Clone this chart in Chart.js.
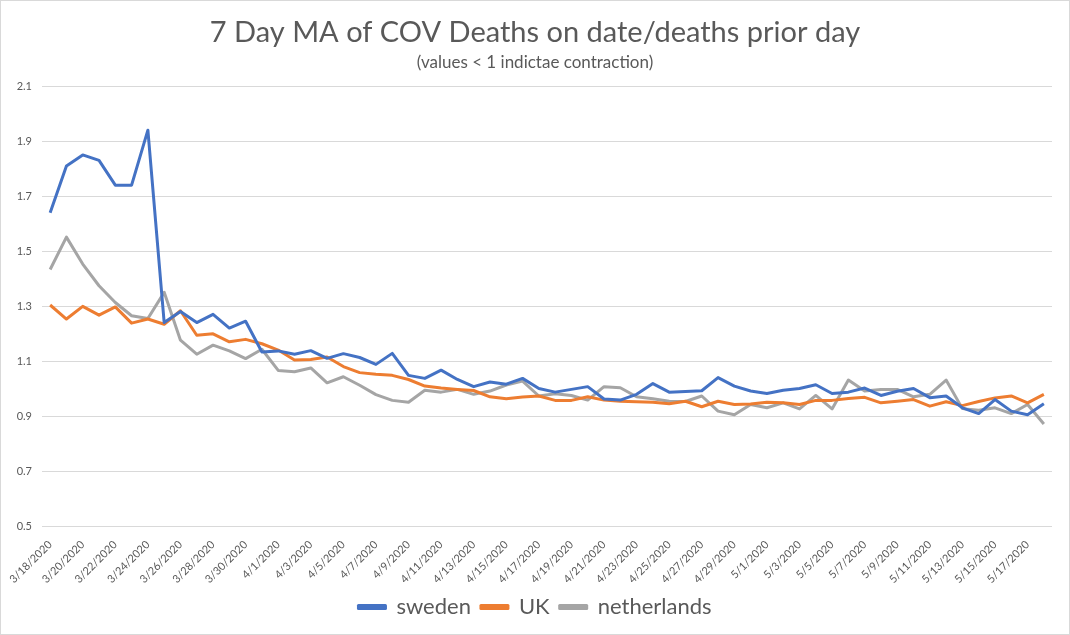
<!DOCTYPE html>
<html>
<head>
<meta charset="utf-8">
<script src="https://cdn.jsdelivr.net/npm/chart.js@4.4.1/dist/chart.umd.min.js"></script>
<style>
  html, body { margin: 0; padding: 0; background: #fff; }
  #wrap { width: 1070px; height: 635px; box-sizing: border-box; border: 1px solid #d9d9d9; }
  canvas { display: block; }
</style>
</head>
<body>
<div id="wrap"><canvas id="myChart" width="1068" height="633"></canvas></div>
<script>
// dates 3/18/2020 .. 5/18/2020
const dates = [
    '3/18/2020', '3/19/2020', '3/20/2020', '3/21/2020', '3/22/2020', '3/23/2020', '3/24/2020',
    '3/25/2020', '3/26/2020', '3/27/2020', '3/28/2020', '3/29/2020', '3/30/2020', '3/31/2020',
    '4/1/2020', '4/2/2020', '4/3/2020', '4/4/2020', '4/5/2020', '4/6/2020', '4/7/2020',
    '4/8/2020', '4/9/2020', '4/10/2020', '4/11/2020', '4/12/2020', '4/13/2020', '4/14/2020',
    '4/15/2020', '4/16/2020', '4/17/2020', '4/18/2020', '4/19/2020', '4/20/2020', '4/21/2020',
    '4/22/2020', '4/23/2020', '4/24/2020', '4/25/2020', '4/26/2020', '4/27/2020', '4/28/2020',
    '4/29/2020', '4/30/2020', '5/1/2020', '5/2/2020', '5/3/2020', '5/4/2020', '5/5/2020',
    '5/6/2020', '5/7/2020', '5/8/2020', '5/9/2020', '5/10/2020', '5/11/2020', '5/12/2020',
    '5/13/2020', '5/14/2020', '5/15/2020', '5/16/2020', '5/17/2020', '5/18/2020'
];

const sweden = [
    1.64, 1.81, 1.85, 1.83, 1.74, 1.74, 1.94, 1.24, 1.28, 1.24, 1.27, 1.22, 1.245, 1.133,
    1.137, 1.125, 1.138, 1.11, 1.127, 1.113, 1.088, 1.128, 1.048, 1.037, 1.067, 1.033, 1.007, 1.024,
    1.016, 1.037, 1.0, 0.987, 0.997, 1.007, 0.962, 0.958, 0.979, 1.018, 0.987, 0.989, 0.992, 1.04,
    1.009, 0.991, 0.982, 0.994, 1.0, 1.014, 0.982, 0.987, 1.002, 0.975, 0.99, 1.0, 0.967, 0.973,
    0.93, 0.909, 0.96, 0.918, 0.905, 0.945
];

const uk = [
    1.304, 1.253, 1.299, 1.267, 1.297, 1.238, 1.253, 1.234, 1.283, 1.194, 1.199, 1.17, 1.179, 1.163,
    1.14, 1.104, 1.106, 1.115, 1.08, 1.058, 1.052, 1.048, 1.033, 1.009, 1.002, 0.997, 0.993, 0.97,
    0.963, 0.969, 0.973, 0.957, 0.957, 0.97, 0.958, 0.954, 0.952, 0.95, 0.945, 0.954, 0.934, 0.954,
    0.942, 0.944, 0.95, 0.948, 0.942, 0.957, 0.957, 0.964, 0.968, 0.948, 0.954, 0.96, 0.936, 0.952,
    0.938, 0.953, 0.966, 0.973, 0.948, 0.979
];

const netherlands = [
    1.433, 1.551, 1.453, 1.374, 1.313, 1.265, 1.255, 1.35, 1.176, 1.125, 1.158, 1.137, 1.109, 1.143,
    1.066, 1.061, 1.075, 1.021, 1.043, 1.012, 0.978, 0.957, 0.95, 0.994, 0.987, 0.997, 0.979, 0.991,
    1.013, 1.027, 0.973, 0.981, 0.975, 0.958, 1.007, 1.003, 0.97, 0.963, 0.954, 0.953, 0.973, 0.918,
    0.905, 0.942, 0.93, 0.948, 0.926, 0.975, 0.926, 1.031, 0.991, 0.997, 0.997, 0.97, 0.979, 1.031,
    0.927, 0.921, 0.93, 0.909, 0.942, 0.871
];

const yTicks = [0.5, 0.7, 0.9, 1.1, 1.3, 1.5, 1.7, 1.9, 2.1];

const textColor = '#595959';
const gridColor = '#d9d9d9';

function serie (label, values, color) {
    return {
        label: label,
        data: values,
        borderColor: color,
        backgroundColor: color,
        borderWidth: 3,
        pointRadius: 0,
        tension: 0,
        borderJoinStyle: 'round'
    };
}

var ctx = document.getElementById('myChart').getContext('2d');
var chart = new Chart(ctx, {
    type: 'line',
    data: {
        labels: dates,
        datasets: [
            serie('sweden', sweden, '#4472c4'),
            serie('UK', uk, '#ed7d31'),
            serie('netherlands', netherlands, '#a5a5a5')
        ]
    },
    options: {
        responsive: false,
        animation: false,
        layout: { padding: { left: 0, right: 0, top: 0, bottom: 6 } },
        plugins: {
            title: {
                display: true,
                text: '7 Day MA of COV Deaths on date/deaths prior day',
                color: textColor,
                font: { family: 'Lato', size: 29, weight: 'normal' },
                padding: { top: 14, bottom: 1 }
            },
            subtitle: {
                display: true,
                text: '(values < 1 indictae contraction)',
                color: textColor,
                font: { family: 'Lato', size: 17 },
                padding: { top: 2, bottom: 13 }
            },
            legend: {
                position: 'bottom',
                labels: {
                    color: textColor,
                    font: { family: 'Lato', size: 22 },
                    boxWidth: 27,
                    boxHeight: 3,
                    padding: 10
                }
            },
            tooltip: { enabled: false }
        },
        scales: {
            x: {
                offset: true,
                grid: { display: false },
                border: { display: false },
                ticks: {
                    autoSkip: false,
                    maxRotation: 45,
                    minRotation: 45,
                    color: textColor,
                    font: { family: 'Lato', size: 11 },
                    padding: 4,
                    callback: function (v, i) { return i % 2 === 0 ? dates[i] : ''; }
                },
                afterFit: function (s) { s.height = 60; }
            },
            y: {
                min: 0.5,
                max: 2.1,
                afterBuildTicks: function (s) { s.ticks = yTicks.map(v => ({ value: v })); },
                grid: { color: gridColor, lineWidth: 1, drawTicks: false },
                border: { display: false },
                ticks: {
                    color: textColor,
                    font: { family: 'Lato', size: 11 },
                    padding: 10,
                    callback: function (v) { return v.toFixed(1); }
                },
                afterFit: function (s) { s.width = 41; }
            },
            // empty right axis, only to keep the right margin
            yRight: {
                position: 'right',
                min: 0.5,
                max: 2.1,
                grid: { display: false },
                border: { display: false },
                ticks: { display: false },
                afterFit: function (s) { s.width = 17; }
            }
        }
    }
});
</script>
</body>
</html>
